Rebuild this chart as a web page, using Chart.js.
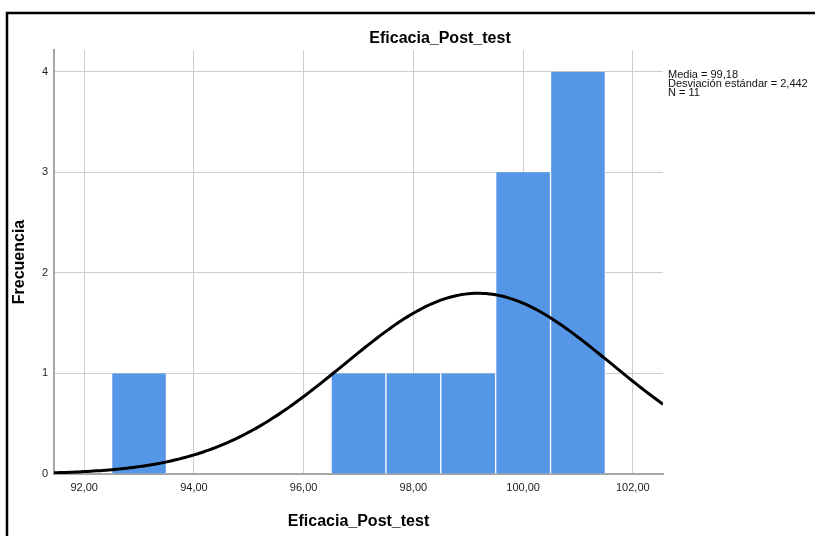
<!DOCTYPE html>
<html lang="es">
<head>
<meta charset="utf-8">
<title>Eficacia_Post_test</title>
<script src="https://cdn.jsdelivr.net/npm/chart.js@4.4.1/dist/chart.umd.min.js"></script>
<style>
  html, body { margin: 0; padding: 0; background: #ffffff; }
  #wrap { width: 815px; height: 536px; position: relative; }
</style>
</head>
<body>
<div id="wrap"><canvas id="hist" width="815" height="536"></canvas></div>
<script>
// Histogram bins (bin centres, width 1) and their frequencies
const binCenters = [93, 97, 98, 99, 100, 101];
const frequencies = [1, 1, 1, 1, 3, 4];

// Summary statistics shown beside the plot
const meanValue = 99.18;
const stdDev = 2.442;
const sampleSize = 11;
const statsLines = ['Media = 99,18', 'Desviación estándar = 2,442', 'N = 11'];

// Axis ticks
const xTickValues = [92, 94, 96, 98, 100, 102];
const xTickLabels = ['92,00', '94,00', '96,00', '98,00', '100,00', '102,00'];
const yTickValues = [0, 1, 2, 3, 4];
const yTickLabels = ['0', '1', '2', '3', '4'];
const xRange = [91.45, 102.55];
const yRange = [0, 4.216];

const FONT = '"Liberation Sans", Arial, Helvetica, sans-serif';

// Fitted normal curve scaled to counts (N * bin width * density)
const binWidth = 1;
const curvePoints = [];
const steps = 200;
for (let i = 0; i <= steps; i++) {
  const x = xRange[0] + (xRange[1] - xRange[0]) * i / steps;
  const z = (x - meanValue) / stdDev;
  const y = sampleSize * binWidth * Math.exp(-0.5 * z * z) / (stdDev * Math.sqrt(2 * Math.PI));
  curvePoints.push({ x, y });
}

const barPoints = binCenters.map((c, i) => ({ x: c, y: frequencies[i] }));

// Outer frame, heading and statistics text
const decorations = {
  id: 'decorations',
  afterDraw(chart) {
    const ctx = chart.ctx;
    ctx.save();
    ctx.strokeStyle = '#000000';
    ctx.lineWidth = 2.5;
    ctx.beginPath();
    ctx.moveTo(7, 540);
    ctx.lineTo(7, 13);
    ctx.lineTo(820, 13);
    ctx.stroke();

    ctx.fillStyle = '#000000';
    ctx.font = 'bold 16px ' + FONT;
    ctx.textAlign = 'center';
    ctx.textBaseline = 'alphabetic';
    ctx.fillText('Eficacia_Post_test', 440, 43);

    ctx.font = '11px ' + FONT;
    ctx.textAlign = 'left';
    ctx.fillStyle = '#111111';
    statsLines.forEach((t, i) => ctx.fillText(t, 668, 78 + i * 9));
    ctx.restore();
  }
};

new Chart(document.getElementById('hist'), {
  type: 'bar',
  data: {
    datasets: [
      {
        type: 'line',
        data: curvePoints,
        borderColor: '#000000',
        borderWidth: 3,
        pointRadius: 0,
        tension: 0,
        fill: false,
        order: 0
      },
      {
        type: 'bar',
        data: barPoints,
        backgroundColor: '#5596e6',
        borderColor: '#ffffff',
        borderWidth: { left: 1, right: 1, top: 0, bottom: 0 },
        borderSkipped: false,
        barPercentage: 1,
        categoryPercentage: 1,
        order: 1
      }
    ]
  },
  options: {
    responsive: false,
    animation: false,
    events: [],
    layout: { padding: { left: 0, top: 50, right: 152, bottom: 0 } },
    plugins: {
      legend: { display: false },
      title: { display: false },
      tooltip: { enabled: false }
    },
    scales: {
      x: {
        type: 'linear',
        min: xRange[0],
        max: xRange[1],
        offset: false,
        grid: { offset: false, color: '#cdcdcd', lineWidth: 1, drawTicks: false },
        border: { color: '#a6a6a6', width: 2 },
        afterBuildTicks: (scale) => { scale.ticks = xTickValues.map(v => ({ value: v })); },
        afterFit: (scale) => { scale.height = 62; },
        ticks: {
          padding: 7,
          color: '#222222',
          font: { family: FONT, size: 11 },
          maxRotation: 0,
          autoSkip: false,
          callback: (v, i) => xTickLabels[i]
        },
        title: {
          display: true,
          text: 'Eficacia_Post_test',
          color: '#000000',
          font: { family: FONT, size: 16, weight: 'bold' },
          padding: { top: 0, bottom: 5 }
        }
      },
      y: {
        type: 'linear',
        min: yRange[0],
        max: yRange[1],
        grid: { color: '#cdcdcd', lineWidth: 1, drawTicks: false },
        border: { color: '#a6a6a6', width: 2 },
        afterBuildTicks: (scale) => { scale.ticks = yTickValues.map(v => ({ value: v })); },
        afterFit: (scale) => { scale.width = 54; },
        ticks: {
          padding: 6,
          color: '#222222',
          font: { family: FONT, size: 11 },
          callback: (v, i) => yTickLabels[i]
        },
        title: {
          display: true,
          text: 'Frecuencia',
          color: '#000000',
          font: { family: FONT, size: 16, weight: 'bold' },
          padding: { top: 10, bottom: 0 }
        }
      }
    }
  },
  plugins: [decorations]
});
</script>
</body>
</html>
